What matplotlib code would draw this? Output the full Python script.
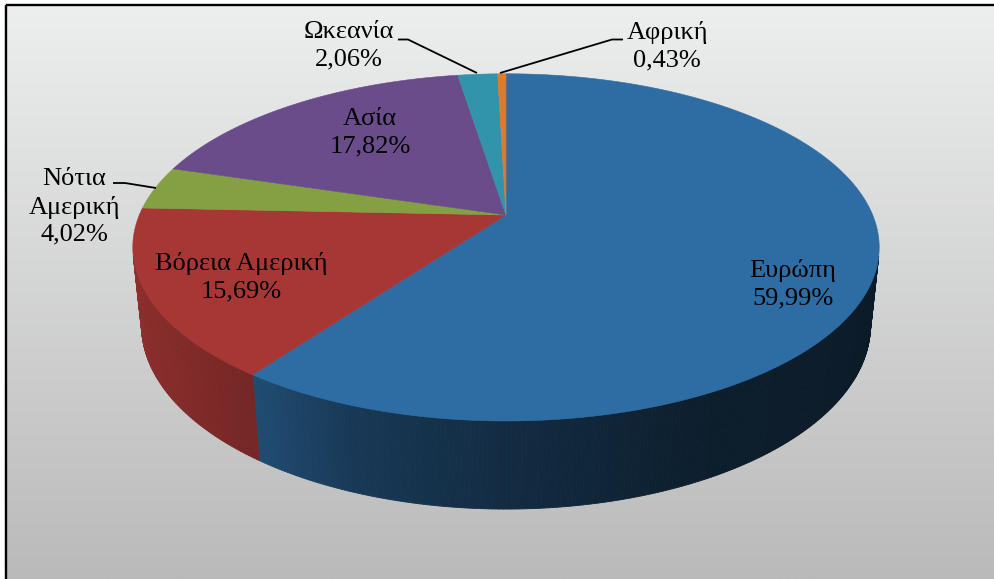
import numpy as np
import matplotlib
matplotlib.use('Agg')
import matplotlib.pyplot as plt
from matplotlib.collections import PolyCollection

# ---- data ----
regions = ['Ευρώπη', 'Βόρεια Αμερική', 'Νότια Αμερική', 'Ασία', 'Ωκεανία', 'Αφρική']
shares = [59.99, 15.69, 4.02, 17.82, 2.06, 0.43]

# ---- style ----
top_colors = ['#2E6DA4', '#A63735', '#84A043', '#6A4C8B', '#3194AB', '#DE7A2A']
label_pos = [(793, 284), (241, 277), (74, 207), (370, 133), (349, 46), (667, 46)]
label_wrap = {'Νότια Αμερική': 'Νότια\nΑμερική'}
leaders = {
    'Νότια Αμερική': [(113, 183), (125, 183), (156, 188)],
    'Ωκεανία': [(398, 39.5), (408, 39.5), (477, 73)],
    'Αφρική': [(623, 39.5), (612, 39.5), (500, 73)],
}

W, Hpx = 995, 579
fig = plt.figure(figsize=(W / 100, Hpx / 100), dpi=100, facecolor='white')
ax = fig.add_axes([0, 0, 1, 1])
ax.set_xlim(0, W)
ax.set_ylim(Hpx, 0)
ax.axis('off')

# background gradient inside chart frame
top_c = np.array([237, 238, 238]) / 255
bot_c = np.array([186, 186, 186]) / 255
t = np.linspace(0, 1, 300)[:, None]
grad = (top_c * (1 - t) + bot_c * t)[:, None, :]
ax.imshow(grad, extent=(6, W, Hpx, 5), aspect='auto', zorder=0, interpolation='bilinear')
ax.plot([5.2, 5.2], [Hpx, 4.0], color='#c8c8c8', lw=1.0, zorder=1)
ax.plot([6.3, 6.3], [Hpx, 4.5], color='black', lw=1.7, zorder=2, solid_capstyle='butt')
ax.plot([6.3, W], [4.8, 4.8], color='black', lw=1.7, zorder=2, solid_capstyle='butt')

# ---- 3D perspective projection of the pie ----
SIN_A = 0.457
ALPHA = np.arcsin(SIN_A)
D = 4.77      # camera distance (in radii)
S = 1749      # projection scale (px)
CX, CY = 506, 215
DEPTH = 0.2405


def proj(phi_deg, y):
    p = np.radians(phi_deg)
    xc = np.cos(p)
    yc = y * np.cos(ALPHA) + np.sin(p) * np.sin(ALPHA)
    zc = -y * np.sin(ALPHA) + np.sin(p) * np.cos(ALPHA) + D
    return CX + S * xc / zc, CY - S * yc / zc


fractions = np.array(shares) / np.sum(shares)
bounds = 90 - 360 * np.concatenate([[0], np.cumsum(fractions)])

# visible part of the outer wall
phi_s = np.degrees(np.arcsin(1 / (D * np.cos(ALPHA))))
vis_lo, vis_hi = -180 + phi_s, -phi_s

kc = np.array([-1.0, -0.59, -0.35, 0.0, 0.47, 1.0])
kv = np.array([0.86, 0.70, 0.52, 0.40, 0.27, 0.24])


def side_color(base, phi):
    c = np.array(matplotlib.colors.to_rgb(base))
    k = np.interp(np.cos(np.radians(phi)), kc, kv)
    return tuple(np.clip(c * k, 0, 1))


side_polys, side_cols = [], []
for i, col in enumerate(top_colors):
    a0, a1 = bounds[i], bounds[i + 1]  # a0 > a1
    lo, hi = max(a1, vis_lo), min(a0, vis_hi)
    if hi <= lo:
        continue
    n = max(2, int((hi - lo) / 0.5) + 1)
    ph = np.linspace(hi, lo, n)
    for pa, pb in zip(ph[:-1], ph[1:]):
        q = [proj(pa, 0), proj(pb, 0), proj(pb, -DEPTH), proj(pa, -DEPTH)]
        side_polys.append(q)
        side_cols.append(side_color(col, 0.5 * (pa + pb)))
pc = PolyCollection(side_polys, facecolors=side_cols, edgecolors=side_cols,
                    linewidths=0.6, zorder=3, antialiased=True)
ax.add_collection(pc)

# top faces
for i, col in enumerate(top_colors):
    a0, a1 = bounds[i], bounds[i + 1]
    n = max(3, int((a0 - a1) / 0.5) + 2)
    ph = np.linspace(a0, a1, n)
    xs, ys = proj(ph, 0.0)
    px = np.concatenate([[CX], xs])
    py = np.concatenate([[CY], ys])
    ax.fill(px, py, color=col, lw=0.4, ec=col, zorder=4)

# ---- labels ----
for name, val, (lx, ly) in zip(regions, shares, label_pos):
    txt = label_wrap.get(name, name) + '\n' + f'{val:.2f}'.replace('.', ',') + '%'
    ax.text(lx, ly, txt, ha='center', va='center', family='Liberation Serif',
            fontsize=19, color='black', linespacing=1.3, zorder=6)
for name, pts in leaders.items():
    xs, ys = zip(*pts)
    ax.plot(xs, ys, color='black', lw=1.3, zorder=5, solid_capstyle='butt')

fig.savefig('out.png', dpi=100, facecolor='white')
